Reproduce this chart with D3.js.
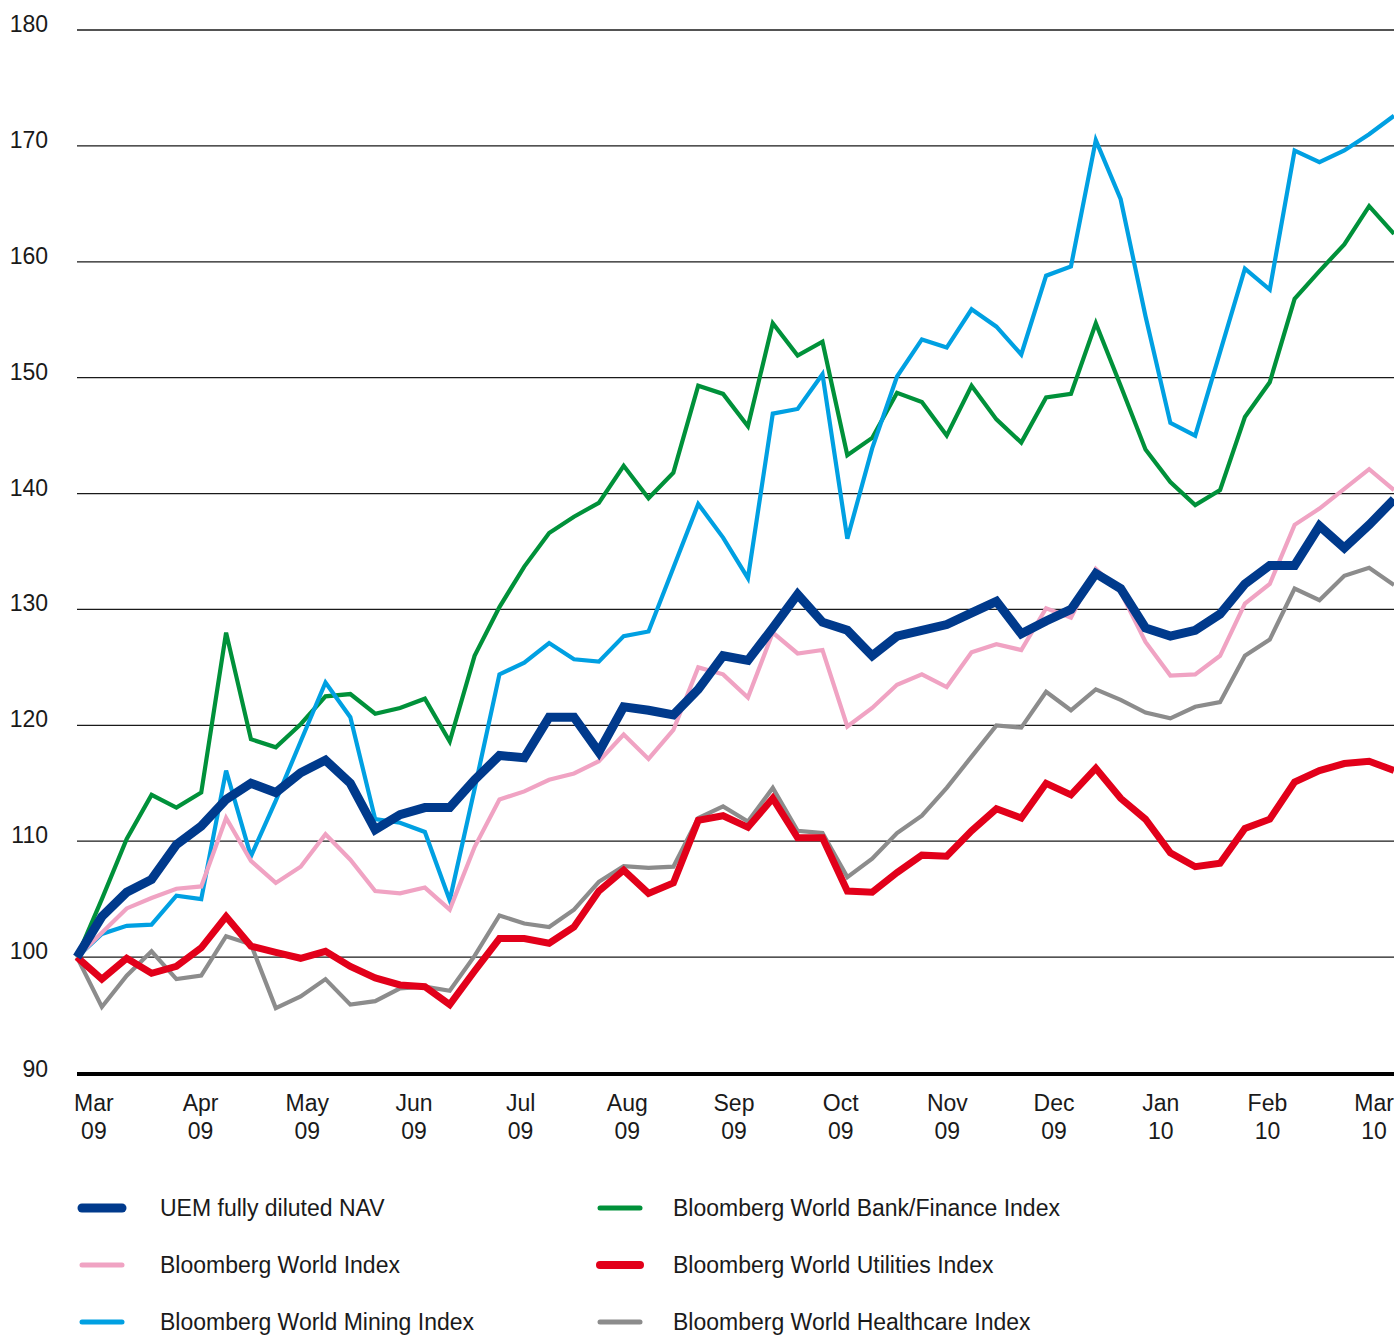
<!DOCTYPE html>
<html lang="en">
<head>
<meta charset="UTF-8">
<script src="https://d3js.org/d3.v7.min.js"></script>
<title>UEM performance</title>
<style>
  body { margin: 0; background: #fff; }
  svg text { font-family: "Helvetica Neue", "Liberation Sans", Arial, sans-serif; fill: #1a1a1a; }
</style>
</head>
<body>
<div id="chart"></div>
<script>
// weekly index values, Mar 09 - Mar 10 (rebased to 100)
const nav = [100, 103.5, 105.6, 106.7, 109.7, 111.3, 113.6, 115.0, 114.2, 115.9, 117.0, 115.0, 111.0, 112.3,
  112.9, 112.9, 115.3, 117.4, 117.2, 120.7, 120.7, 117.7, 121.6, 121.3, 120.9, 123.1, 126.0,
  125.6, 128.4, 131.3, 128.9, 128.2, 126.0, 127.7, 128.2, 128.7, 129.7, 130.7, 127.9, 129.0, 130.0,
  133.1, 131.8, 128.4, 127.7, 128.2, 129.6, 132.2, 133.8, 133.8, 137.2, 135.3, 137.3, 139.5];
const world = [100, 102.1, 104.2, 105.1, 105.9, 106.1, 112.0, 108.3, 106.4, 107.8, 110.6, 108.4, 105.7, 105.5,
  106.0, 104.1, 109.5, 113.6, 114.3, 115.3, 115.85, 116.9, 119.2, 117.1, 119.6, 125.0, 124.4,
  122.4, 128.0, 126.2, 126.5, 119.9, 121.5, 123.5, 124.4, 123.3, 126.3, 127.0, 126.5, 130.1, 129.3,
  133.5, 131.5, 127.2, 124.3, 124.4, 126.0, 130.5, 132.2, 137.3, 138.7, 140.4, 142.1, 140.3];
const mining = [100, 102.0, 102.7, 102.8, 105.3, 105.0, 116.1, 108.7, 113.5, 118.6, 123.7, 120.7, 111.9, 111.6,
  110.8, 104.9, 114.5, 124.4, 125.4, 127.1, 125.7, 125.5, 127.7, 128.1, 133.6, 139.1, 136.2,
  132.7, 146.9, 147.3, 150.3, 136.1, 143.9, 150.1, 153.3, 152.6, 155.9, 154.4, 152.0, 158.8, 159.6,
  170.5, 165.4, 155.3, 146.1, 145.0, 152.2, 159.4, 157.6, 169.6, 168.6, 169.6, 171.0, 172.6];
const bank = [100, 105.0, 110.2, 114.0, 112.9, 114.2, 128.0, 118.8, 118.1, 120.1, 122.5, 122.7, 121.0, 121.5,
  122.3, 118.6, 126.0, 130.2, 133.7, 136.6, 138.0, 139.2, 142.4, 139.6, 141.8, 149.3, 148.6,
  145.8, 154.7, 151.9, 153.1, 143.3, 144.8, 148.7, 147.9, 145.0, 149.3, 146.4, 144.4, 148.3, 148.6,
  154.7, 149.3, 143.8, 141.0, 139.0, 140.3, 146.6, 149.6, 156.8, 159.2, 161.5, 164.8, 162.4];
const utilities = [100, 98.1, 99.9, 98.6, 99.2, 100.8, 103.5, 100.95, 100.4, 99.9, 100.5, 99.2, 98.2, 97.6,
  97.45, 95.9, 98.8, 101.6, 101.6, 101.2, 102.6, 105.7, 107.5, 105.5, 106.4, 111.8, 112.2,
  111.2, 113.7, 110.3, 110.3, 105.7, 105.6, 107.3, 108.8, 108.7, 110.9, 112.8, 112.0, 115.0, 114.0,
  116.3, 113.7, 111.9, 109.0, 107.8, 108.1, 111.1, 111.9, 115.1, 116.1, 116.7, 116.9, 116.1];
const healthcare = [100, 95.7, 98.4, 100.5, 98.1, 98.4, 101.8, 101.1, 95.6, 96.6, 98.1, 95.9, 96.2, 97.3,
  97.45, 97.1, 100.1, 103.6, 102.9, 102.6, 104.1, 106.5, 107.85, 107.7, 107.8, 112.0, 113.0,
  111.7, 114.6, 110.9, 110.7, 106.9, 108.5, 110.7, 112.2, 114.6, 117.3, 120.0, 119.8, 122.9, 121.3,
  123.1, 122.2, 121.1, 120.6, 121.6, 122.0, 126.0, 127.4, 131.8, 130.8, 132.9, 133.6, 132.1];

const months = ["Mar", "Apr", "May", "Jun", "Jul", "Aug", "Sep", "Oct", "Nov", "Dec", "Jan", "Feb", "Mar"];
const years = ["09", "09", "09", "09", "09", "09", "09", "09", "09", "09", "10", "10", "10"];
const yTicks = [90, 100, 110, 120, 130, 140, 150, 160, 170, 180];

const seriesNames = ["UEM fully diluted NAV", "Bloomberg World Index", "Bloomberg World Mining Index",
  "Bloomberg World Bank/Finance Index", "Bloomberg World Utilities Index", "Bloomberg World Healthcare Index"];

const series = [
  { name: seriesNames[0], values: nav, color: "#003a8c", width: 9, order: 5 },
  { name: seriesNames[1], values: world, color: "#f0a3c3", width: 4.2, order: 3 },
  { name: seriesNames[2], values: mining, color: "#00a0e2", width: 4.2, order: 1 },
  { name: seriesNames[3], values: bank, color: "#00913a", width: 4.2, order: 0 },
  { name: seriesNames[4], values: utilities, color: "#e2001a", width: 7, order: 4 },
  { name: seriesNames[5], values: healthcare, color: "#8c8c8c", width: 4.2, order: 2 }
];

const W = 1394, H = 1336;
const svg = d3.select("#chart").append("svg").attr("width", W).attr("height", H);

const x = d3.scaleLinear().domain([0, nav.length - 1]).range([77, 1394]);
const y = d3.scaleLinear().domain([90, 180]).range([1073, 30]);

// gridlines + y labels
svg.append("g").selectAll("line").data(yTicks.filter(d => d > 90)).join("line")
  .attr("x1", x(0)).attr("x2", W)
  .attr("y1", d => y(d)).attr("y2", d => y(d))
  .attr("stroke", "#1a1a1a").attr("stroke-width", 1.3);

svg.append("g").selectAll("text").data(yTicks).join("text")
  .attr("x", 48).attr("y", d => y(d) + (d === 90 ? 4 : 2))
  .attr("text-anchor", "end").attr("font-size", 23)
  .text(d => d);

// lines
const line = d3.line().x((d, i) => x(i)).y(d => y(d));
const plot = svg.append("g");
series.slice().sort((a, b) => a.order - b.order).forEach(s => {
  plot.append("path").datum(s.values)
    .attr("fill", "none")
    .attr("stroke", s.color)
    .attr("stroke-width", s.width)
    .attr("stroke-linejoin", "miter")
    .attr("stroke-miterlimit", 4)
    .attr("d", line);
});

// baseline axis
svg.append("line")
  .attr("x1", x(0)).attr("x2", W)
  .attr("y1", y(90) + 1).attr("y2", y(90) + 1)
  .attr("stroke", "#000").attr("stroke-width", 4);

// month labels, evenly spaced across the year
const tickPos = d3.scalePoint().domain(d3.range(months.length)).range([x(0.68), x(52.2)]);
const xl = svg.append("g").selectAll("text").data(months).join("text")
  .attr("text-anchor", "middle").attr("font-size", 23);
xl.append("tspan").attr("x", (d, i) => tickPos(i)).attr("y", 1111).text(d => d);
xl.append("tspan").attr("x", (d, i) => tickPos(i)).attr("y", 1139).text((d, i) => years[i]);

// legend
const legendCols = [{ sx: 82, tx: 160 }, { sx: 600, tx: 673 }];
const legendRows = [1208, 1265, 1322];
const legendOrder = [0, 1, 2, 3, 4, 5];
const lg = svg.append("g").selectAll("g").data(legendOrder.map(i => series[i])).join("g")
  .attr("transform", (d, i) => `translate(0,${legendRows[i % 3]})`);
lg.append("line")
  .attr("x1", (d, i) => legendCols[Math.floor(i / 3)].sx)
  .attr("x2", (d, i) => legendCols[Math.floor(i / 3)].sx + 40)
  .attr("stroke", d => d.color)
  .attr("stroke-width", d => d.width === 9 ? 9 : (d.width === 7 ? 8 : 5))
  .attr("stroke-linecap", "round");
lg.append("text")
  .attr("x", (d, i) => legendCols[Math.floor(i / 3)].tx)
  .attr("y", 8)
  .attr("font-size", 23)
  .text(d => d.name);
</script>
</body>
</html>
